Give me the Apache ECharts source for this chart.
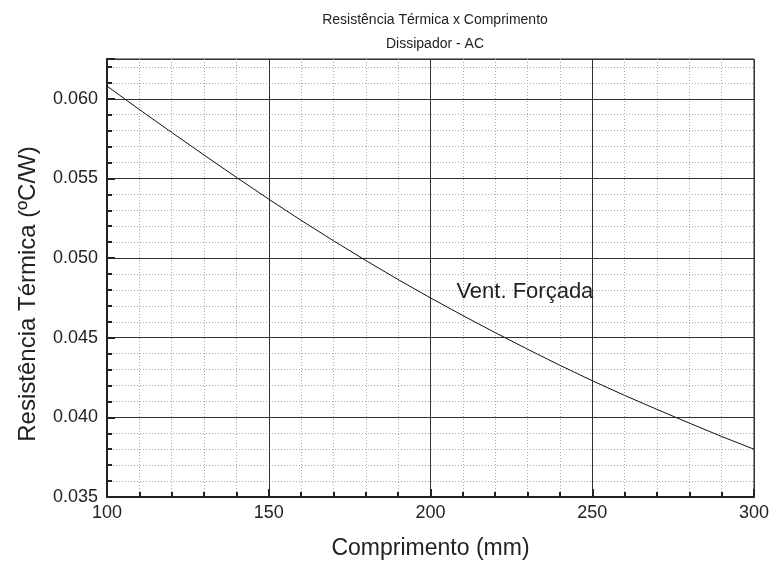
<!DOCTYPE html>
<html>
<head>
<meta charset="utf-8">
<script src="https://cdn.jsdelivr.net/npm/echarts@6/dist/echarts.min.js"></script>
<style>
  html, body { margin: 0; padding: 0; background: #fff; }
  #chart { width: 772px; height: 563px; }
</style>
</head>
<body>
<div id="chart"></div>
<script>
const comprimento = [100, 110, 120, 130, 140, 150, 160, 170, 180, 190, 200,
  210, 220, 230, 240, 250, 260, 270, 280, 290, 300];
const resistencia = [0.06080, 0.05933, 0.05789, 0.05647, 0.05507, 0.05370, 0.05237,
  0.05109, 0.04985, 0.04865, 0.04750, 0.04639, 0.04532, 0.04428, 0.04327, 0.04230,
  0.04138, 0.04050, 0.03964, 0.03880, 0.03800];
const curveLabel = "Vent. Forçada";
const labelAt = [208, 0.0479];

const font = "Liberation Sans, Arial, sans-serif";
const chart = echarts.init(document.getElementById("chart"));

chart.setOption({
  animation: false,
  backgroundColor: "#fff",
  title: {
    text: "Resistência Térmica x Comprimento\nDissipador - AC",
    left: 430,
    textAlign: "center",
    top: 3,
    textStyle: { fontFamily: font, fontSize: 14, fontWeight: "normal", color: "#222", lineHeight: 24 }
  },
  grid: {
    left: 107, right: 18, top: 59, bottom: 66,
    outerBoundsMode: "none",
    containLabel: false,
    show: true, borderColor: "#222", borderWidth: 1
  },
  xAxis: {
    type: "value",
    min: 100, max: 300, interval: 50,
    name: "Comprimento (mm)",
    nameLocation: "middle",
    nameGap: 40,
    nameTextStyle: { fontFamily: font, fontSize: 23, color: "#222" },
    axisLine: { show: true, onZero: false, lineStyle: { color: "#222", width: 2 } },
    axisTick: { inside: true, length: 8, lineStyle: { color: "#222", width: 2 } },
    minorTick: { show: true, splitNumber: 5, length: 5, lineStyle: { color: "#222", width: 2 } },
    axisLabel: { fontFamily: font, fontSize: 18, color: "#222", margin: 7 },
    splitLine: { show: true, lineStyle: { color: "#333", width: 1 } },
    minorSplitLine: { show: true, lineStyle: { color: "#aaa", type: [1, 2], width: 1 } }
  },
  yAxis: {
    type: "value",
    min: 0.035, max: 0.0625, interval: 0.005,
    name: "Resistência Térmica (ºC/W)",
    nameLocation: "middle",
    nameGap: 67,
    nameTextStyle: { fontFamily: font, fontSize: 24, color: "#222", padding: [0, 32, 0, 0] },
    axisLine: { show: true, lineStyle: { color: "#222", width: 2 } },
    axisTick: { inside: true, length: 8, lineStyle: { color: "#222", width: 2 } },
    minorTick: { show: true, splitNumber: 5, length: 5, lineStyle: { color: "#222", width: 2 } },
    axisLabel: {
      fontFamily: font, fontSize: 18, color: "#222", margin: 9,
      showMaxLabel: false,
      formatter: v => v.toFixed(3)
    },
    splitLine: { show: true, lineStyle: { color: "#333", width: 1 } },
    minorSplitLine: { show: true, lineStyle: { color: "#aaa", type: [1, 2], width: 1 } }
  },
  series: [{
    type: "line",
    data: comprimento.map((x, i) => [x, resistencia[i]]),
    smooth: false,
    showSymbol: false,
    lineStyle: { color: "#111", width: 1 },
    markPoint: {
      symbolSize: 0,
      data: [{ coord: labelAt }],
      label: {
        show: true,
        position: "right",
        distance: 0,
        formatter: curveLabel,
        fontFamily: font, fontSize: 22, color: "#222"
      }
    }
  }]
});
</script>
</body>
</html>
